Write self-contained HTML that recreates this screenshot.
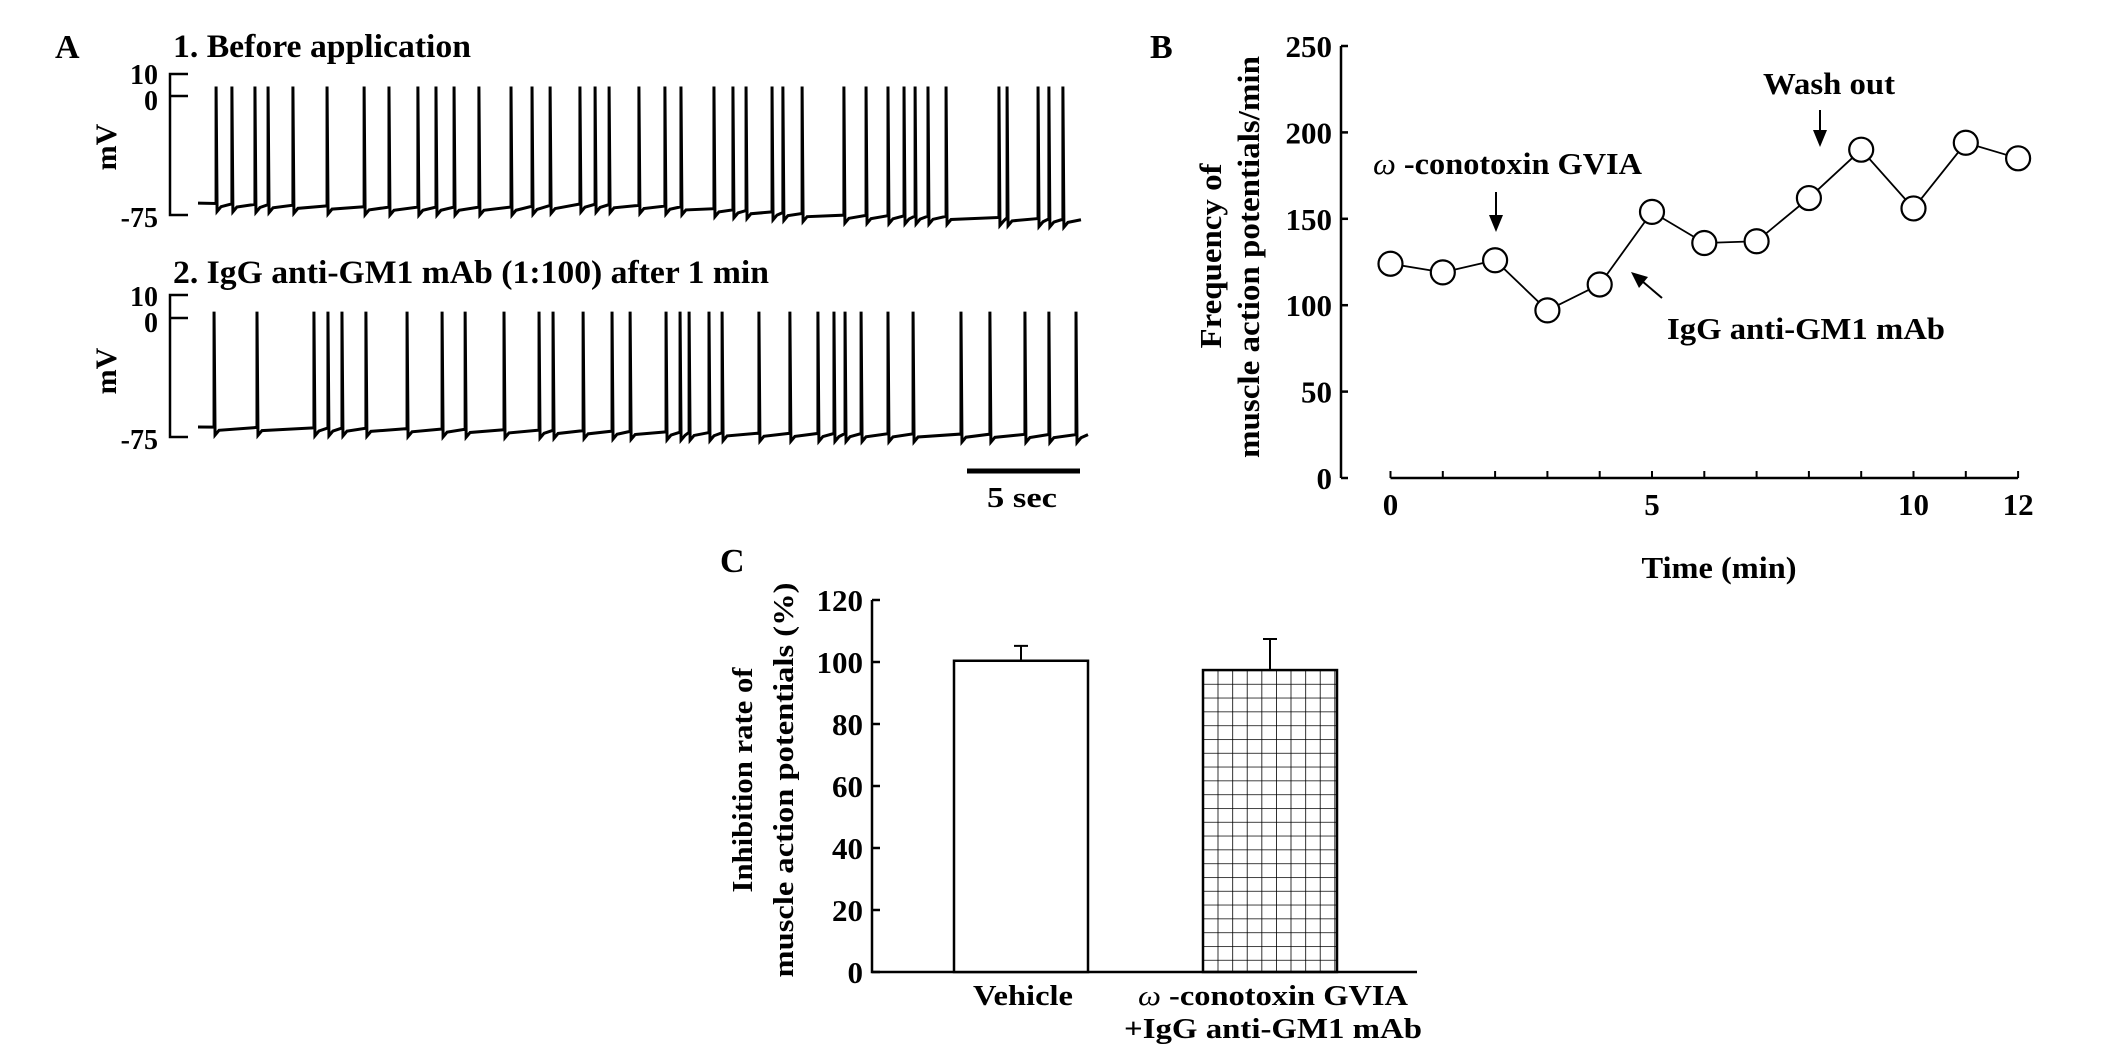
<!DOCTYPE html>
<html><head><meta charset="utf-8"><style>
html,body{margin:0;padding:0;background:#fff}
svg{display:block}
text{font-family:"Liberation Serif",serif;font-weight:bold;fill:#000}
</style></head><body>
<svg id="fig" width="2126" height="1057" viewBox="0 0 2126 1057" xmlns="http://www.w3.org/2000/svg">
<g id="pa">
<text x="55" y="58" font-size="34">A</text>
<text x="173" y="57" font-size="33" textLength="298" lengthAdjust="spacingAndGlyphs">1. Before application</text>
<text x="173" y="283" font-size="33" textLength="596" lengthAdjust="spacingAndGlyphs">2. IgG anti-GM1 mAb (1:100) after 1 min</text>
<text transform="translate(116,147) rotate(-90)" text-anchor="middle" font-size="30">mV</text>
<text transform="translate(116,371) rotate(-90)" text-anchor="middle" font-size="30">mV</text>
<line x1="967" y1="471" x2="1080" y2="471" stroke="#000" stroke-width="5"/>
<text x="1022" y="507" font-size="29" text-anchor="middle" textLength="70" lengthAdjust="spacingAndGlyphs">5 sec</text>
</g>
<g id="pb">
<text x="1150" y="58" font-size="34">B</text>
<text transform="translate(1221,256) rotate(-90)" text-anchor="middle" font-size="31" textLength="185" lengthAdjust="spacingAndGlyphs">Frequency of</text>
<text transform="translate(1259,257) rotate(-90)" text-anchor="middle" font-size="31" textLength="402" lengthAdjust="spacingAndGlyphs">muscle action potentials/min</text>
<text x="1719" y="578" font-size="31" text-anchor="middle" textLength="155" lengthAdjust="spacingAndGlyphs">Time (min)</text>
<text x="1373" y="174" font-size="31" textLength="269" lengthAdjust="spacingAndGlyphs"><tspan font-style="italic" font-weight="normal">ω</tspan> -conotoxin GVIA</text>
<text x="1763" y="94" font-size="31" textLength="132" lengthAdjust="spacingAndGlyphs">Wash out</text>
<text x="1667" y="339" font-size="31" textLength="278" lengthAdjust="spacingAndGlyphs">IgG anti-GM1 mAb</text>
<g><line x1="1496" y1="192" x2="1496" y2="218" stroke="#000" stroke-width="2"/><polygon points="1489,215 1503,215 1496,232" fill="#000"/></g>
<g><line x1="1820" y1="110" x2="1820" y2="133" stroke="#000" stroke-width="2"/><polygon points="1813,130 1827,130 1820,147" fill="#000"/></g>
<g><line x1="1662" y1="298" x2="1642" y2="281" stroke="#000" stroke-width="2"/><polygon points="1631,272 1648,277 1639,288" fill="#000"/></g>
</g>
<g id="pc">
<text x="720" y="572" font-size="34">C</text>
<text transform="translate(752,780) rotate(-90)" text-anchor="middle" font-size="29" textLength="225" lengthAdjust="spacingAndGlyphs">Inhibition rate of</text>
<text transform="translate(793,780) rotate(-90)" text-anchor="middle" font-size="29" textLength="395" lengthAdjust="spacingAndGlyphs">muscle action potentials (%)</text>
<text x="1023" y="1005" font-size="29" text-anchor="middle" textLength="100" lengthAdjust="spacingAndGlyphs">Vehicle</text>
<text x="1273" y="1005" font-size="29" text-anchor="middle" textLength="270" lengthAdjust="spacingAndGlyphs"><tspan font-style="italic" font-weight="normal">ω</tspan> -conotoxin GVIA</text>
<text x="1273" y="1038" font-size="29" text-anchor="middle" textLength="298" lengthAdjust="spacingAndGlyphs">+IgG anti-GM1 mAb</text>
</g>
</svg>
<script>
const NS='http://www.w3.org/2000/svg';
// ---- Panel A data (spike times in s, voltages in mV) ----
const spikes1=[0.80,1.50,2.52,3.10,4.20,5.71,7.35,8.45,9.73,10.53,11.33,12.43,13.85,14.78,15.58,16.90,17.57,18.19,19.51,20.66,21.37,22.83,23.67,24.25,25.40,25.88,26.73,28.58,29.56,30.53,31.24,31.73,32.30,33.10,35.44,35.80,37.17,37.65,38.27];
const spikes2=[0.71,2.61,5.13,5.75,6.37,7.43,9.25,10.80,11.82,13.54,15.09,15.71,17.04,18.32,19.12,20.71,21.33,21.73,22.61,23.19,24.82,26.19,27.43,28.14,28.63,29.34,30.53,31.64,33.76,35.04,36.59,37.65,38.85];
const baseT1=[0,8,14,17,21,24,28,34,39.1];
const baseV1=[-67.5,-70,-70,-68,-69.5,-72,-75,-76,-78];
const baseT2=[0,8,17,24,39.4];
const baseV2=[-68.7,-69.5,-71,-72.5,-73.5];
const peak1=6, peak2=4;
const mvTicks=[10,0,-75];
// ---- Panel B data ----
const timesB=[0,1,2,3,4,5,6,7,8,9,10,11,12];
const freqB=[124,119,126,97,112,154,136,137,162,190,156,194,185];
const yTicksB=[0,50,100,150,200,250];
const xTicksB=[0,5,10,12];
// ---- Panel C data ----
const catsC=['Vehicle','Conotoxin+IgG'];
const valsC=[100.4,97.4];
const errC=[4.8,10.0];
const yTicksC=[0,20,40,60,80,100,120];

const svg=document.getElementById('fig');
function mk(tag,attrs,parent){const e=document.createElementNS(NS,tag);for(const k in attrs)e.setAttribute(k,attrs[k]);(parent||svg).appendChild(e);return e;}
function interp(t,T,V){for(let i=1;i<T.length;i++){if(t<=T[i]){const f=(t-T[i-1])/(T[i]-T[i-1]);return V[i-1]+f*(V[i]-V[i-1]);}}return V[V.length-1];}

function trace(spikes,bT,bV,pk,y10,y0,ym75,tEnd,name){
  const g=document.getElementById('pa');
  const x=t=>198+t*22.6;
  const y=v=>y0+(ym75-y0)*(-v/75);
  const ax=mk('path',{d:`M188 ${y10} H170 V${ym75} H188 M170 ${y0} H188`,fill:'none',stroke:'#000','stroke-width':2.5},g);
  
  
  mvTicks.forEach(v=>{const tt=mk('text',{x:158,y:y(v)+(v===10?4:v===0?14:12),'font-size':28,'text-anchor':'end'},g);tt.textContent=String(v);
    
    });
  let d=`M${x(0)} ${y(interp(0,bT,bV))}`;
  spikes.forEach(t=>{const b=interp(t,bT,bV);
    d+=` L${x(t)} ${y(b)} L${x(t)} ${y(pk)} L${x(t)+1} ${y(b-5)} L${x(t)+5} ${y(b-2)}`;});
  d+=` L${x(tEnd)} ${y(interp(tEnd,bT,bV))}`;
  const p=mk('path',{d:d,fill:'none',stroke:'#000','stroke-width':3,'stroke-linejoin':'miter'},g);
  
  
}
trace(spikes1,baseT1,baseV1,peak1,74,96,215,39.07,'trace1');
trace(spikes2,baseT2,baseV2,peak2,295,318,437,39.38,'trace2');

// Panel B
(function(){
  const g=document.getElementById('pb');
  const x=t=>1390.5+t*52.3;
  const y=v=>478-v*(432/250);
  const ya=mk('path',{d:`M1341 ${y(250)} V478`,stroke:'#000','stroke-width':2.5,fill:'none'},g);
  
  
  yTicksB.forEach(v=>{const l=mk('line',{x1:1341,x2:1348,y1:y(v),y2:y(v),stroke:'#000','stroke-width':2.5},g);
    
    
    const t=mk('text',{x:1332,y:y(v)+11,'font-size':31,'text-anchor':'end'},g);t.textContent=v;
    
    });
  const xa=mk('line',{x1:x(0),x2:x(12),y1:478,y2:478,stroke:'#000','stroke-width':2.5},g);
  
  
  timesB.forEach(t=>{const l=mk('line',{x1:x(t),x2:x(t),y1:471,y2:478,stroke:'#000','stroke-width':2},g);
    
    });
  xTicksB.forEach(t=>{const tt=mk('text',{x:x(t),y:515,'font-size':31,'text-anchor':'middle'},g);tt.textContent=t;
    
    });
  const pl=mk('polyline',{points:timesB.map((t,i)=>x(t)+','+y(freqB[i])).join(' '),fill:'none',stroke:'#000','stroke-width':1.8},g);
  
  
  timesB.forEach((t,i)=>{const c=mk('circle',{cx:x(t),cy:y(freqB[i]),r:12,fill:'#fff',stroke:'#000','stroke-width':2.2},g);
    
    });
})();

// Panel C
(function(){
  const g=document.getElementById('pc');
  const y=v=>972-v*(372/120);
  const defs=mk('defs',{},g);
  const pat=mk('pattern',{id:'grid',width:14.6,height:13.8,patternUnits:'userSpaceOnUse',x:1203,y:y(valsC[1])},defs);
  mk('path',{d:'M0 0 H14.6 M0 0 V13.8',stroke:'#000','stroke-width':1.6,fill:'none'},pat);
  const ya=mk('path',{d:`M872 ${y(120)} V972 H1417`,stroke:'#000','stroke-width':2.5,fill:'none'},g);
  
  
  yTicksC.forEach(v=>{const l=mk('line',{x1:872,x2:880,y1:y(v),y2:y(v),stroke:'#000','stroke-width':2.5},g);
    
    
    const t=mk('text',{x:863,y:y(v)+11,'font-size':31,'text-anchor':'end'},g);t.textContent=v;
    
    });
  const lefts=[954,1203], w=134;
  catsC.forEach((c,i)=>{
    const cx=lefts[i]+w/2;
    const e=mk('path',{d:`M${cx} ${y(valsC[i])} V${y(valsC[i]+errC[i])} M${cx-7} ${y(valsC[i]+errC[i])} H${cx+7}`,stroke:'#000','stroke-width':2,fill:'none'},g);
    
    
    const r=mk('rect',{x:lefts[i],y:y(valsC[i]),width:w,height:972-y(valsC[i]),fill:i?'url(#grid)':'#fff',stroke:'#000','stroke-width':2.5},g);
    
    
  });
})();
</script>
</body></html>
